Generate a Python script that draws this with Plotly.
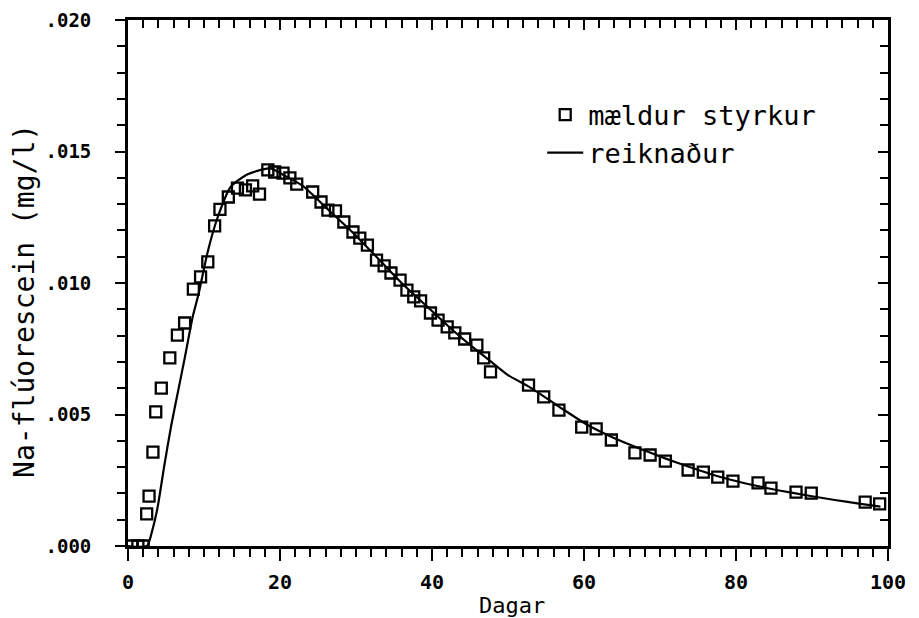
import plotly.graph_objects as go

# Measured Na-fluorescein concentration (mg/l) against days
days_measured = [0.5, 1.3, 2.0, 2.46, 2.77, 3.28, 3.65, 4.38, 5.5, 6.5, 7.45, 8.6, 9.55, 10.5,
                 11.4, 12.1, 13.2, 14.4, 15.45, 16.4, 17.3, 18.4, 19.3, 20.4, 21.3, 22.2,
                 24.3, 25.4, 26.3, 27.3, 28.4, 29.6, 30.5, 31.5, 32.7, 33.7, 34.6, 35.8,
                 36.7, 37.6, 38.5, 39.8, 40.8, 42.0, 43.0, 44.3, 45.9, 46.8, 47.7,
                 52.7, 54.7, 56.7, 59.7, 61.6, 63.6, 66.7, 68.7, 70.7, 73.7, 75.7, 77.6,
                 79.6, 82.9, 84.6, 87.9, 89.9, 97.0, 98.9]
conc_measured = [0.0, 0.0, 0.0, 0.00122, 0.0019, 0.00357, 0.0051, 0.0060, 0.00715, 0.00802,
                 0.00848, 0.00977, 0.01023, 0.0108, 0.01217, 0.0128, 0.01327, 0.01361,
                 0.01354, 0.01369, 0.01338, 0.0143, 0.01422, 0.01418, 0.0140, 0.01376,
                 0.01346, 0.01308, 0.01277, 0.01274, 0.01232, 0.01194, 0.01171, 0.01144,
                 0.01087, 0.01065, 0.01038, 0.01011, 0.00973, 0.00947, 0.00932, 0.00886,
                 0.00859, 0.00833, 0.0081, 0.00787, 0.00764, 0.00715, 0.00662,
                 0.00612, 0.00567, 0.00517, 0.00452, 0.00445, 0.00403, 0.00354, 0.00346,
                 0.00323, 0.00289, 0.00281, 0.00262, 0.00247, 0.0024, 0.0022, 0.00205,
                 0.00201, 0.00167, 0.0016]

# Computed (model) concentration curve
days_model = [0, 2.5, 3.2, 3.9, 4.8, 5.7, 6.6, 7.5, 8.5, 9.3, 10.5, 11.8, 13.5, 15.5, 17.5,
              18.7, 20.5, 23, 26, 29.5, 33, 36, 39, 42.4, 45, 47.6, 50, 52.8, 56.7, 60.6,
              64, 67.2, 70.5, 73.7, 76.5, 79.3, 82.5, 85.5, 89.8, 93, 96.4, 99]
conc_model = [0.0, 0.0, 0.0006, 0.00148, 0.0031, 0.0046, 0.0059, 0.0072, 0.0087, 0.0096,
              0.0112, 0.0125, 0.01365, 0.0141, 0.0143, 0.01437, 0.0141, 0.01369, 0.01288,
              0.01194, 0.0109, 0.0100, 0.0092, 0.00829, 0.00765, 0.00705, 0.0065, 0.00605,
              0.0053, 0.00458, 0.0041, 0.00372, 0.00335, 0.00302, 0.00275, 0.00252, 0.0023,
              0.00212, 0.0019, 0.00175, 0.0016, 0.0015]

x_tickvals = [0, 20, 40, 60, 80, 100]
y_tickvals = [0.0, 0.005, 0.010, 0.015, 0.020]
y_ticktext = [".000", ".005", ".010", ".015", ".020"]

FONT = "DejaVu Sans Mono"

fig = go.Figure()
fig.add_trace(go.Scatter(
    x=days_measured, y=conc_measured, mode="markers", name="mældur styrkur",
    marker=dict(symbol="square-open", size=11, color="black", line=dict(width=2.3, color="black")),
))
fig.add_trace(go.Scatter(
    x=days_model, y=conc_model, mode="lines", name="reiknaður",
    line=dict(color="black", width=2.2, shape="spline", smoothing=0.6),
))
# invisible trace so the mirrored top/right axes are drawn
fig.add_trace(go.Scatter(
    x=days_model, y=conc_model, xaxis="x2", yaxis="y2", mode="lines",
    line=dict(width=0), showlegend=False, hoverinfo="skip",
))

axis_common = dict(showline=True, linecolor="black", linewidth=2.8, showgrid=False,
                   zeroline=False, tickcolor="black", tickwidth=2.2, automargin=False)

fig.update_layout(
    width=919, height=618,
    margin=dict(l=128, r=31, t=20, b=72, autoexpand=False),
    paper_bgcolor="white", plot_bgcolor="white",
    font=dict(family=FONT, color="black", size=19, weight="bold"),
    showlegend=True,
    legend=dict(x=0.545, y=0.866, xanchor="left", yanchor="top",
                font=dict(family=FONT, size=27, weight="normal"), bgcolor="rgba(0,0,0,0)",
                itemwidth=36, tracegroupgap=0),
    xaxis=dict(range=[0, 100], tickvals=x_tickvals, ticks="outside", ticklen=12,
               minor=dict(dtick=2, ticks="outside", ticklen=8, tickwidth=2.2, tickcolor="black"),
               tickfont=dict(size=20, weight="bold"), ticklabelstandoff=4,
               **axis_common),
    yaxis=dict(range=[0, 0.020], tickvals=y_tickvals, ticktext=y_ticktext,
               ticks="outside", ticklen=10,
               minor=dict(dtick=0.001, ticks="outside", ticklen=8, tickwidth=2.2, tickcolor="black"),
               tickfont=dict(size=19, weight="bold"), ticklabelstandoff=20,
               **axis_common),
    xaxis2=dict(range=[0, 100], overlaying="x", side="top", anchor="y2",
                tickvals=x_tickvals, ticks="inside", ticklen=10, showticklabels=False,
                minor=dict(dtick=2, ticks="inside", ticklen=8, tickwidth=2.2, tickcolor="black"),
                **axis_common),
    yaxis2=dict(range=[0, 0.020], overlaying="y", side="right", anchor="x2",
                tickvals=y_tickvals, ticks="inside", ticklen=10, showticklabels=False,
                minor=dict(dtick=0.001, ticks="inside", ticklen=8, tickwidth=2.2, tickcolor="black"),
                **axis_common),
    annotations=[
        dict(text="Na-flúorescein (mg/l)", textangle=-90, xref="paper", yref="paper",
             x=-0.1355, y=0.466, xanchor="center", yanchor="middle", showarrow=False,
             font=dict(family=FONT, size=28, weight="normal")),
        dict(text="Dagar", xref="paper", yref="paper",
             x=0.505, y=-0.114, xanchor="center", yanchor="middle", showarrow=False,
             font=dict(family=FONT, size=22, weight="normal")),
    ],
)

fig.write_html("out.html")
